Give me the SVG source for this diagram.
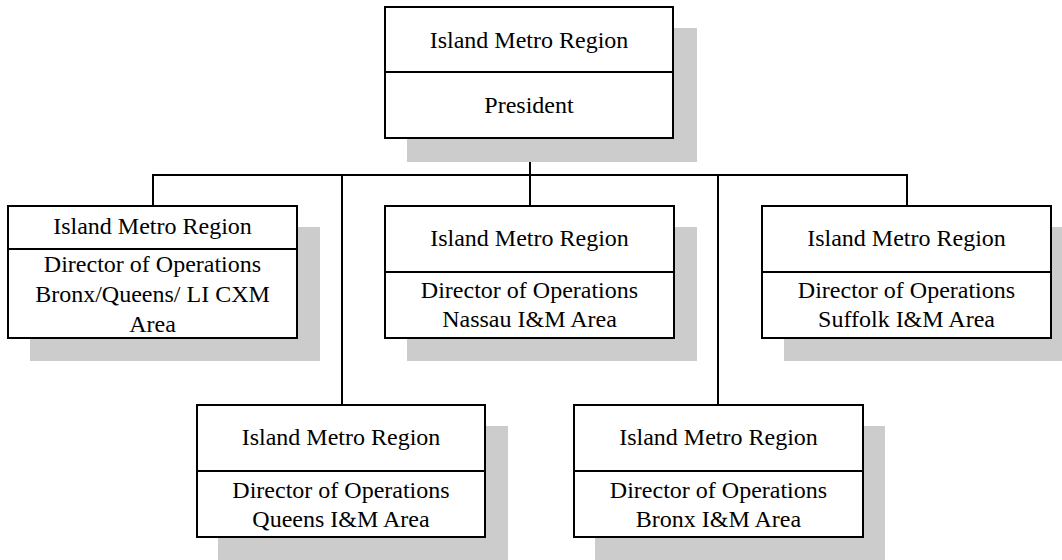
<svg xmlns="http://www.w3.org/2000/svg" width="1062" height="560" viewBox="0 0 1062 560">
  <style>
    .shadow { fill: #cccccc; }
    .box { fill: #ffffff; stroke: #000000; stroke-width: 2; }
    .div { stroke: #000000; stroke-width: 2; }
    .wire { fill: none; stroke: #000000; stroke-width: 2; }
    text { font-family: "Liberation Serif", "Times New Roman", serif; font-size: 24px; fill: #000000; text-anchor: middle; }
  </style>
  <rect width="1062" height="560" fill="#ffffff"/>

  <!-- connectors -->
  <g id="connectors">
    <path class="wire" d="M530,138 V175"/>
    <path class="wire" d="M153,206 V175 H907 V206"/>
    <path class="wire" d="M530,175 V206"/>
    <path class="wire" d="M342,175 V405"/>
    <path class="wire" d="M718,175 V405"/>
  </g>

  <!-- top: president -->
  <g id="president">
    <rect class="shadow" x="407" y="28" width="290" height="134"/>
    <rect class="box" x="385" y="7" width="288" height="131"/>
    <line class="div" x1="385" y1="72" x2="673" y2="72"/>
    <text x="529" y="48">Island Metro Region</text>
    <text x="529" y="113">President</text>
  </g>

  <!-- director: Bronx/Queens/LI CXM -->
  <g id="dir-cxm">
    <rect class="shadow" x="30" y="227" width="290" height="134"/>
    <rect class="box" x="8" y="206" width="289" height="132"/>
    <line class="div" x1="8" y1="249" x2="297" y2="249"/>
    <text x="152.5" y="234">Island Metro Region</text>
    <text x="152.5" y="272">Director of Operations</text>
    <text x="152.5" y="302">Bronx/Queens/ LI CXM</text>
    <text x="152.5" y="332">Area</text>
  </g>

  <!-- director: Nassau -->
  <g id="dir-nassau">
    <rect class="shadow" x="407" y="227" width="290" height="134"/>
    <rect class="box" x="385" y="206" width="289" height="132"/>
    <line class="div" x1="385" y1="272" x2="674" y2="272"/>
    <text x="529.5" y="246">Island Metro Region</text>
    <text x="529.5" y="298">Director of Operations</text>
    <text x="529.5" y="327">Nassau I&amp;M Area</text>
  </g>

  <!-- director: Suffolk -->
  <g id="dir-suffolk">
    <rect class="shadow" x="784" y="227" width="290" height="134"/>
    <rect class="box" x="762" y="206" width="289" height="132"/>
    <line class="div" x1="762" y1="272" x2="1051" y2="272"/>
    <text x="906.5" y="246">Island Metro Region</text>
    <text x="906.5" y="298">Director of Operations</text>
    <text x="906.5" y="327">Suffolk I&amp;M Area</text>
  </g>

  <!-- director: Queens -->
  <g id="dir-queens">
    <rect class="shadow" x="218" y="426" width="290" height="134"/>
    <rect class="box" x="197" y="405" width="288" height="132"/>
    <line class="div" x1="197" y1="471" x2="485" y2="471"/>
    <text x="341" y="445">Island Metro Region</text>
    <text x="341" y="498">Director of Operations</text>
    <text x="341" y="527">Queens I&amp;M Area</text>
  </g>

  <!-- director: Bronx -->
  <g id="dir-bronx">
    <rect class="shadow" x="595" y="426" width="290" height="134"/>
    <rect class="box" x="574" y="405" width="289" height="132"/>
    <line class="div" x1="574" y1="471" x2="863" y2="471"/>
    <text x="718.5" y="445">Island Metro Region</text>
    <text x="718.5" y="498">Director of Operations</text>
    <text x="718.5" y="527">Bronx I&amp;M Area</text>
  </g>
</svg>
